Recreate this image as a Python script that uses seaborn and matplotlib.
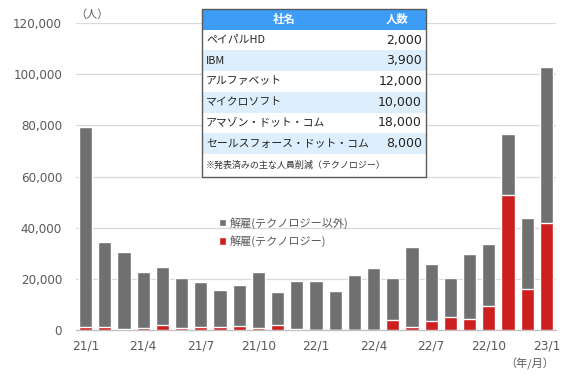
import numpy as np
import pandas as pd
import matplotlib
matplotlib.use('Agg')
import matplotlib.pyplot as plt
import seaborn as sns
from matplotlib.patches import Rectangle, Patch
from matplotlib.ticker import FuncFormatter

# ---- data ----
months = ['21/1', '21/2', '21/3', '21/4', '21/5', '21/6', '21/7', '21/8', '21/9',
          '21/10', '21/11', '21/12', '22/1', '22/2', '22/3', '22/4', '22/5', '22/6',
          '22/7', '22/8', '22/9', '22/10', '22/11', '22/12', '23/1']
total = [79300, 34400, 30500, 22700, 24500, 20300, 18800, 15600, 17700, 22700,
         14800, 19000, 19000, 15100, 21400, 24200, 20500, 32300, 25800, 20200,
         29900, 33600, 76700, 43600, 102700]
tech = [1000, 1000, 500, 700, 1800, 700, 1300, 1300, 1500, 800,
        1900, 300, 0, 0, 0, 0, 3900, 1200, 3500, 4900,
        4200, 9400, 52700, 16100, 41800]
tick_labels = ['21/1', '21/4', '21/7', '21/10', '22/1', '22/4', '22/7', '22/10', '23/1']
yticks = [0, 20000, 40000, 60000, 80000, 100000, 120000]

companies = ['ペイパルHD', 'IBM', 'アルファベット', 'マイクロソフト',
             'アマゾン・ドット・コム', 'セールスフォース・ドット・コム']
counts = [2000, 3900, 12000, 10000, 18000, 8000]

series_labels = ['解雇(テクノロジー以外)', '解雇(テクノロジー)']

GRAY = '#707070'
RED = '#cc1f1f'
TXT = '#595959'

sns.set_style('white')
plt.rcParams['font.family'] = ['DejaVu Sans', 'Noto Sans CJK JP']
JP = ['Noto Sans CJK JP', 'DejaVu Sans']

df = pd.DataFrame({'month': months, 'total': total, 'tech': tech})

fig = plt.figure(figsize=(5.67, 3.79), dpi=100)
ax = fig.add_axes([76 / 567, (379 - 330) / 379, 480 / 567, 307 / 379])

sns.barplot(data=df, x='month', y='total', order=months, color=GRAY, saturation=1,
            width=0.68, errorbar=None, ax=ax, zorder=2)
sns.barplot(data=df, x='month', y='tech', order=months, color=RED, saturation=1,
            width=0.68, errorbar=None, ax=ax, zorder=3)

ax.set_xlim(-0.5, 24.5)
ax.set_ylim(0, 120000)
ax.set_yticks(yticks)
ax.yaxis.set_major_formatter(FuncFormatter(lambda v, p: f'{int(v):,}'))
ax.yaxis.grid(True, color='#d9d9d9', lw=0.9, zorder=0)
ax.xaxis.grid(False)
ax.set_axisbelow(True)
for s in ['left', 'top', 'right']:
    ax.spines[s].set_visible(False)
ax.spines['bottom'].set_color('#bfbfbf')
ax.spines['bottom'].set_linewidth(0.9)

ax.set_xticks([months.index(t) for t in tick_labels])
ax.set_xticklabels(tick_labels)
ax.set_xticks(np.arange(-0.5, 24, 3), minor=True)
ax.tick_params(axis='x', which='major', length=0, pad=7, labelsize=8.7, labelcolor=TXT)
ax.tick_params(axis='x', which='minor', length=4, width=0.9, color='#bfbfbf')
ax.tick_params(axis='y', length=0, pad=10, labelsize=8.6, labelcolor=TXT)
ax.set_xlabel('')
ax.set_ylabel('')

fig.text(75 / 567, (379 - 15) / 379, '（人）', family=JP, fontsize=8, color=TXT,
         ha='left', va='center')
fig.text(530 / 567, (379 - 364) / 379, '（年/月）', family=JP, fontsize=8, color=TXT,
         ha='center', va='center')

handles = [Patch(facecolor=GRAY), Patch(facecolor=RED)]
leg = ax.legend(handles, series_labels, loc='center left',
                bbox_to_anchor=(219 / 567, (379 - 232) / 379), bbox_transform=fig.transFigure,
                frameon=False, borderpad=0, borderaxespad=0, handlelength=0.65,
                handleheight=0.65, handletextpad=0.3, labelspacing=0.6,
                prop={'family': JP, 'size': 8})
for t in leg.get_texts():
    t.set_color(TXT)

# ---- table inset ----
tab = fig.add_axes([202 / 567, (379 - 177) / 379, 224 / 567, 168 / 379])
tab.set_xlim(0, 224)
tab.set_ylim(168, 0)
tab.axis('off')
rh = 20.7
tab.add_patch(Rectangle((0, 0), 224, 168, facecolor='white', edgecolor='none'))
tab.add_patch(Rectangle((0, 0), 224, rh, facecolor='#3d9cf5', edgecolor='none'))
for k in range(len(companies)):
    fc = 'white' if k % 2 == 0 else '#ddeefc'
    tab.add_patch(Rectangle((0, rh * (k + 1)), 224, rh, facecolor=fc, edgecolor='none'))
tab.add_patch(Rectangle((0, 0), 224, 168, facecolor='none', edgecolor='#595959',
                        lw=1.0, clip_on=False))
tab.text(82, rh / 2, '社名', family=JP, fontsize=8.2, color='white', weight='bold',
         ha='center', va='center')
tab.text(195, rh / 2, '人数', family=JP, fontsize=8.2, color='white', weight='bold',
         ha='center', va='center')
for k, (name, n) in enumerate(zip(companies, counts)):
    yc = rh * (k + 1.5)
    tab.text(4, yc, name, family=JP, fontsize=7.8, color='#222222', ha='left', va='center')
    tab.text(220, yc, f'{n:,}', fontsize=9, color='#222222', ha='right', va='center')
tab.text(4, 156, '※発表済みの主な人員削減（テクノロジー）', family=JP, fontsize=6.5,
         color='#333333', ha='left', va='center')

fig.savefig('out.png', dpi=100)
